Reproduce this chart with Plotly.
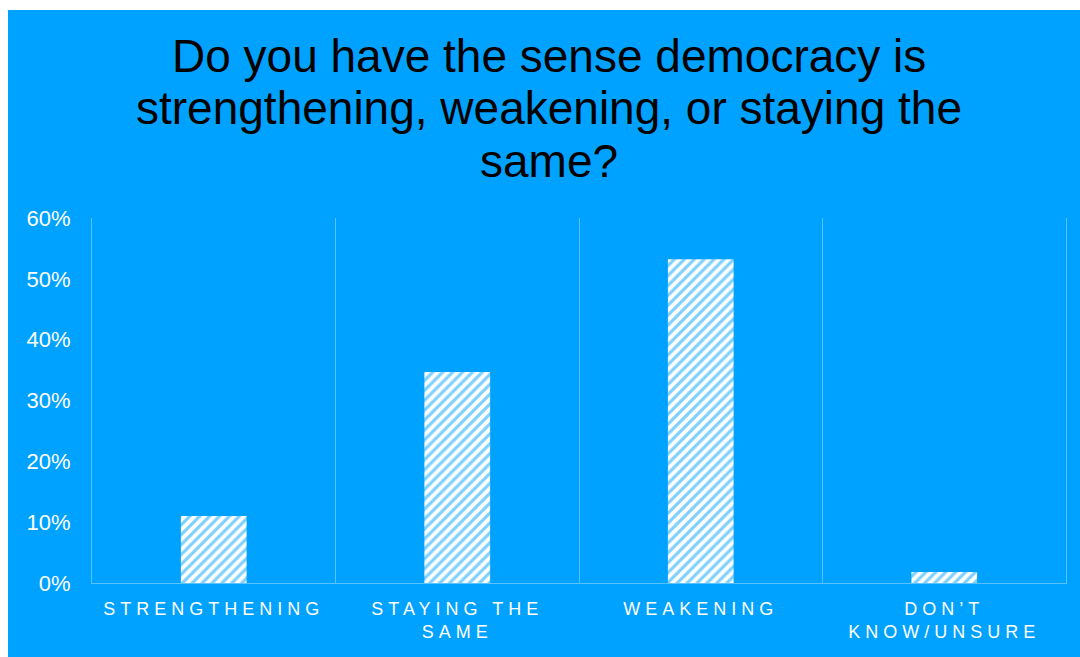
import plotly.graph_objects as go

categories = ["STRENGTHENING", "STAYING THE<br>SAME", "WEAKENING", "DON’T<br>KNOW/UNSURE"]
values = [11.0, 34.7, 53.2, 1.8]
y_ticks = [0, 10, 20, 30, 40, 50, 60]
y_tick_labels = ["0%", "10%", "20%", "30%", "40%", "50%", "60%"]
title_lines = [
    "Do you have the sense democracy is",
    "strengthening, weakening, or staying the",
    "same?",
]

BLUE = "#00A2FF"
LINE = "rgba(255,255,255,0.35)"

W, H = 1080, 657
L, R, T, B = 92, 14, 218, 74
PW, PH = W - L - R, H - T - B


def px_x(px):
    return (px - L) / PW


def px_y(py):
    return (H - B - py) / PH


fig = go.Figure(
    go.Bar(
        x=categories,
        y=values,
        width=0.27,
        marker=dict(
            color="white",
            line=dict(width=0),
            pattern=dict(shape="/", fgcolor=BLUE, bgcolor="white",
                         size=7, solidity=0.45, fillmode="overlay"),
        ),
        hoverinfo="skip",
    )
)

# blue card background (white strip on top and left like the reference)
fig.add_shape(type="rect", xref="paper", yref="paper",
              x0=px_x(8), x1=px_x(W + 2), y0=px_y(H + 2), y1=px_y(10),
              fillcolor=BLUE, line=dict(width=0), layer="below")

for i, line in enumerate(title_lines):
    fig.add_annotation(
        text=line, xref="paper", yref="paper",
        x=px_x(549), y=px_y(56 + 52.5 * i),
        xanchor="center", yanchor="middle", showarrow=False,
        font=dict(size=46, color="black", family="Liberation Sans, Arial, sans-serif"),
    )

fig.update_layout(
    width=W,
    height=H,
    paper_bgcolor="white",
    plot_bgcolor=BLUE,
    margin=dict(l=L, r=R, t=T, b=B),
    showlegend=False,
    font=dict(family="Liberation Sans, Arial, sans-serif", color="white"),
    xaxis=dict(
        range=[-0.5, 3.5],
        tickson="boundaries",
        showgrid=True,
        gridcolor=LINE,
        gridwidth=1,
        showline=True,
        linecolor=LINE,
        linewidth=1,
        ticks="",
        ticklabelstandoff=9,
        tickfont=dict(size=18, color="white"),
        fixedrange=True,
    ),
    yaxis=dict(
        range=[0, 60],
        tickvals=y_ticks,
        ticktext=y_tick_labels,
        showgrid=False,
        zeroline=False,
        showline=True,
        mirror=True,
        linecolor=LINE,
        linewidth=1,
        ticks="",
        ticklabelstandoff=16,
        tickfont=dict(size=22, color="white"),
        fixedrange=True,
    ),
)

post = """
document.body.style.margin = '0';
document.body.style.overflow = 'hidden';
var gd = document.getElementById('{plot_id}');
function ls(){
  gd.querySelectorAll('.xtick text').forEach(function(t){ t.style.letterSpacing = '5px'; });
}
ls();
gd.on('plotly_afterplot', ls);
"""

fig.write_html("out.html", post_script=post, config={"displayModeBar": False})
